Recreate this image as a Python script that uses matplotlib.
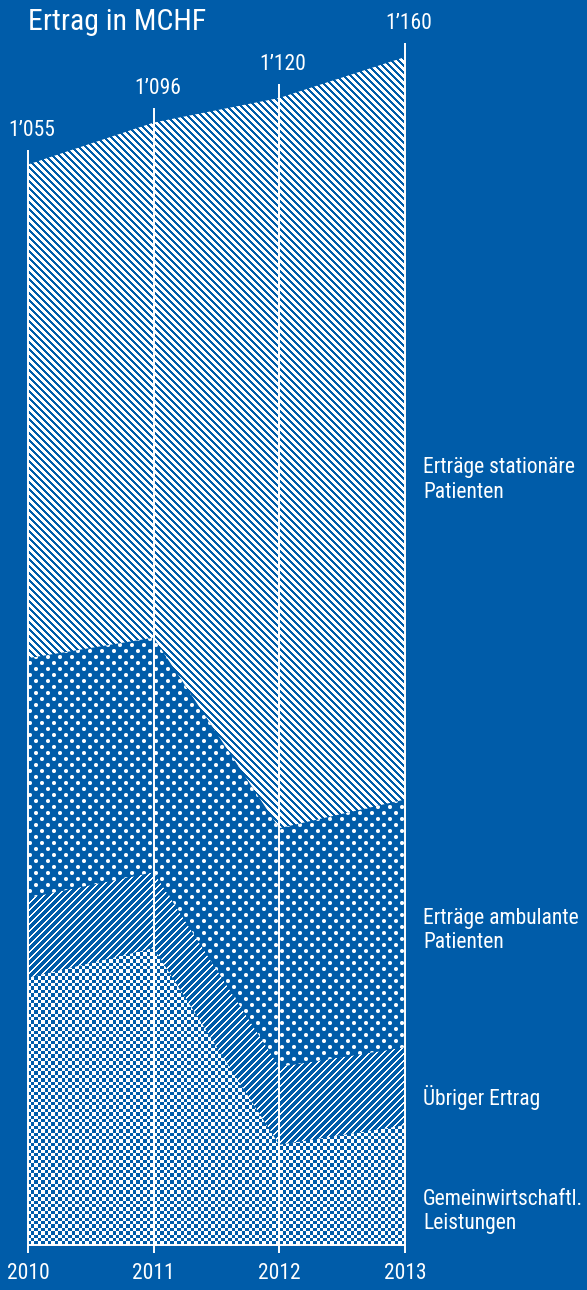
import numpy as np
import matplotlib as mpl
import matplotlib.pyplot as plt
from matplotlib.colors import LinearSegmentedColormap
mpl.use('agg')

plt.rcParams['font.family'] = ['Noto Sans Condensed', 'Roboto Condensed', 'Open Sans Condensed',
                               'Liberation Sans Narrow', 'Liberation Sans', 'DejaVu Sans']

## data (MCHF)
years = [2010, 2011, 2012, 2013]
year_labels = ['2010', '2011', '2012', '2013']
totals = [1055, 1096, 1120, 1160]
total_labels = ['1’055', '1’096', '1’120', '1’160']

gemeinwirtschaftl = [261, 290, 98, 117]
uebriger = [78, 74, 76, 76]
ambulant = [234, 229, 233, 242]
stationaer = [482, 503, 713, 725]

series_names = ['Gemeinwirtschaftl.\nLeistungen', 'Übriger Ertrag',
                'Erträge ambulante\nPatienten', 'Erträge stationäre\nPatienten']
name_y = [33, 144, 307, 747]

BLUE = '#005CA9'
W, H = 587, 1290

## axes fill the whole figure, limits chosen so 2010..2013 sit at x=28..405 px
px_per_year = (405 - 28) / 3
px_per_unit = (1245 - 57) / 1160
xlim = (2010 - 28 / px_per_year, 2010 + (W - 28) / px_per_year)
ylim = (-(H - 1245) / px_per_unit, 1245 / px_per_unit)

## pixel textures (0 = blue, 1 = white)
ii, jj = np.mgrid[0:H, 0:W]
stripes = (((ii - jj) % 7) < 4).astype(float)
thin = (((ii + jj) % 7) < 2).astype(float)
yy = ii + 0.5
xx = jj + 0.5
row = np.floor(yy / 6)
dy = yy - (6 * row + 3)
dx = ((xx - 6 * (row % 2)) % 12) - 6
dots = np.clip(2.5 - np.sqrt(dx**2 + dy**2), 0, 1)
checker = ((np.floor(ii / 3.4) + np.floor(jj / 3.4)) % 2 == 0).astype(float)

cmap = LinearSegmentedColormap.from_list('bw', [BLUE, 'white'])

fig = plt.figure(figsize=(W / 100, H / 100), dpi=100)
fig.patch.set_facecolor(BLUE)
ax = fig.add_axes([0, 0, 1, 1])
ax.set_facecolor(BLUE)

lower = np.zeros(len(years))
for values, tex in [(gemeinwirtschaftl, checker), (uebriger, thin),
                    (ambulant, dots), (stationaer, stripes)]:
    upper = lower + np.array(values)
    poly = ax.fill_between(years, lower, upper, facecolor='none', linewidth=0)
    im = ax.imshow(tex, cmap=cmap, vmin=0, vmax=1, extent=(*xlim, *ylim),
                   origin='upper', interpolation='nearest', aspect='auto')
    im.set_clip_path(poly.get_paths()[0], ax.transData)
    lower = upper

## year lines, baseline
ax.vlines(years, -8, [t + 14 for t in totals], color='white', lw=1.4)
ax.hlines(0, years[0], years[-1], color='white', lw=1.4)

for x, t, lab in zip(years, totals, total_labels):
    ax.text(x + 0.03, t + 33, lab, color='white', fontsize=15.5, ha='center', va='center')
for x, lab in zip(years, year_labels):
    ax.text(x, -28, lab, color='white', fontsize=15.5, ha='center', va='center')
for lab, y in zip(series_names, name_y):
    ax.text(years[-1] + 0.143, y, lab, color='white', fontsize=15.5,
            ha='left', va='center', linespacing=1.2)

ax.text(years[0], 1194, 'Ertrag in MCHF', color='white', fontsize=21.5, ha='left', va='center')

ax.set_xlim(*xlim)
ax.set_ylim(*ylim)
ax.axis('off')

fig.savefig('out.png', dpi=100, facecolor=BLUE)
